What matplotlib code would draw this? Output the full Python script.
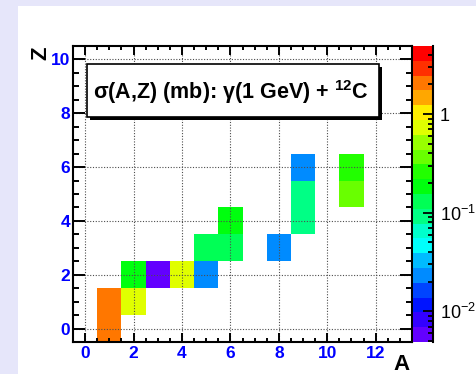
import colorsys
import numpy as np
import matplotlib
matplotlib.use('Agg')
import matplotlib.pyplot as plt
from matplotlib.colors import ListedColormap, BoundaryNorm
from matplotlib.patches import Rectangle
from matplotlib.ticker import MultipleLocator, FixedLocator, LogLocator, FuncFormatter, NullFormatter

plt.rcParams['font.family'] = ['Liberation Sans', 'DejaVu Sans']
plt.rcParams['mathtext.fontset'] = 'custom'
plt.rcParams['mathtext.rm'] = 'Liberation Sans'
plt.rcParams['mathtext.bf'] = 'Liberation Sans:bold'

# fragment yields: mass number A, charge Z, cross section (mb)
A = [1, 1, 2, 2, 3, 4, 5, 5, 6, 6, 8, 9, 9, 9, 11, 11]
Z = [0, 1, 1, 2, 2, 2, 2, 3, 3, 4, 3, 4, 5, 6, 5, 6]
sigma = [2.0, 2.1, 0.72, 0.18, 0.0058, 0.75, 0.023, 0.13, 0.13, 0.19,
         0.024, 0.092, 0.09, 0.022, 0.37, 0.26]

zmax = 4.9
zmin = zmax * 1e-3
ncont = 20

# ROOT "pretty" palette (50 colours violet -> red), 20 contour levels
pal = [colorsys.hls_to_rgb((280 - (i + 1) * 5.6) / 360.0, 0.5, 1.0) for i in range(50)]
cols = [pal[int((j + 0.99) * 50 / ncont)] for j in range(ncont)]
levels = np.logspace(np.log10(zmin), np.log10(zmax), ncont + 1)
cmap = ListedColormap(cols)
norm = BoundaryNorm(levels, ncont)

a_edges = np.arange(-0.5, 14.0, 1.0)
z_edges = np.arange(-0.5, 11.0, 1.0)
H = np.full((len(z_edges) - 1, len(a_edges) - 1), np.nan)
for a, z, s in zip(A, Z, sigma):
    H[z, a] = s

W, Hpx = 476, 374
fig = plt.figure(figsize=(W / 100, Hpx / 100), dpi=100, facecolor='#e6e6fa')
fig.patches.append(Rectangle((18 / W, 0), 1, 1 - 6 / Hpx, transform=fig.transFigure,
                             facecolor='white', edgecolor='none', zorder=-1))

ax = fig.add_axes([73 / W, 1 - 342 / Hpx, 339 / W, 296 / Hpx])
ax.pcolormesh(a_edges, z_edges, H, cmap=cmap, norm=norm, antialiased=False, zorder=1)
ax.set_xlim(-0.5, 13.5)
ax.set_ylim(-0.5, 10.5)
ax.xaxis.set_major_locator(MultipleLocator(2))
ax.xaxis.set_minor_locator(MultipleLocator(0.5))
ax.yaxis.set_major_locator(MultipleLocator(2))
ax.yaxis.set_minor_locator(MultipleLocator(0.5))
ax.set_axisbelow(False)
ax.grid(True, which='major', color='0.3', linestyle=(0, (1, 1.5)), linewidth=0.8)
ax.tick_params(which='both', direction='in', top=True, right=True, width=1.4,
               labelcolor='blue', labelsize=12.5)
ax.tick_params(axis='x', which='major', length=6.5, pad=3)
ax.tick_params(axis='x', which='minor', length=3.2)
ax.tick_params(axis='y', which='major', length=8.5, pad=2)
ax.tick_params(axis='y', which='minor', length=4.3)
for lab in ax.get_xticklabels() + ax.get_yticklabels():
    lab.set_fontweight('bold')
for sp in ax.spines.values():
    sp.set_linewidth(1.5)

# palette axis
cax = fig.add_axes([413 / W, 1 - 342 / Hpx, 20 / W, 296 / Hpx])
mids = np.sqrt(levels[:-1] * levels[1:])
cax.pcolormesh([0, 1], levels, mids[:, None], cmap=cmap, norm=norm, antialiased=False)
cax.set_yscale('log')
cax.set_ylim(zmin, zmax)
cax.set_xlim(0, 1)
cax.set_xticks([])
for k in ['left', 'top', 'bottom']:
    cax.spines[k].set_visible(False)
cax.spines['right'].set_linewidth(1.5)
cax.yaxis.tick_right()
cax.yaxis.set_major_locator(FixedLocator([0.01, 0.1, 1]))
cax.yaxis.set_major_formatter(FuncFormatter(
    lambda v, p: '1' if abs(v - 1) < 1e-9 else r'$10^{%d}$' % round(np.log10(v))))
cax.yaxis.set_minor_locator(LogLocator(subs=np.arange(2, 10), numticks=20))
cax.yaxis.set_minor_formatter(NullFormatter())
cax.tick_params(which='both', direction='in', width=1.3, labelsize=13, pad=5)
cax.tick_params(which='major', length=7)
cax.tick_params(which='minor', length=3.6)

# title box with shadow
bx, by, bw, bh = 87, 64, 292, 53
fig.patches.append(Rectangle(((bx + 3) / W, 1 - (by + bh + 3) / Hpx), bw / W, bh / Hpx,
                             transform=fig.transFigure, facecolor='black',
                             edgecolor='none', zorder=5))
fig.patches.append(Rectangle((bx / W, 1 - (by + bh) / Hpx), bw / W, bh / Hpx,
                             transform=fig.transFigure, facecolor='white',
                             edgecolor='black', linewidth=1.2, zorder=6))
fig.text(93 / W, 1 - 92 / Hpx, r'σ(A,Z) (mb): γ(1 GeV) + $^{\mathbf{12}}$C',
         fontsize=15.5, fontweight='bold', ha='left', va='center', zorder=7)

fig.text(41 / W, 1 - 53 / Hpx, 'Z', rotation=90, fontsize=16, fontweight='bold',
         ha='center', va='center')
fig.text(410 / W, 1 - 365 / Hpx, 'A', fontsize=16, fontweight='bold',
         ha='right', va='center')

fig.savefig('out.png', dpi=100)
